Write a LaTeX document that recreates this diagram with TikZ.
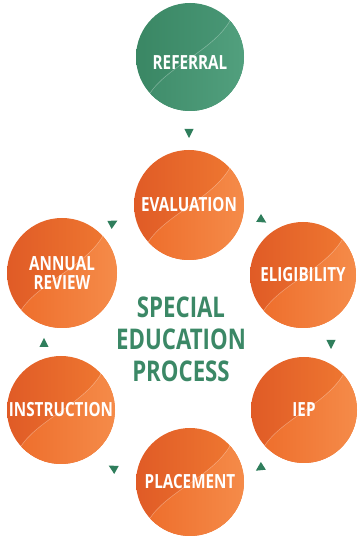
\documentclass[tikz,border=0pt]{standalone}
\usepackage{fontspec}
\newfontfamily\cond{Open Sans}[FakeStretch=0.78]
\definecolor{oD}{HTML}{E05B26}
\definecolor{oL}{HTML}{F07A32}
\definecolor{oR1}{HTML}{EE6E2C}
\definecolor{oR2}{HTML}{F58C4A}
\definecolor{gD}{HTML}{3A8764}
\definecolor{gL}{HTML}{4A9877}
\definecolor{gR1}{HTML}{408D6B}
\definecolor{gR2}{HTML}{52A07E}
\definecolor{titlegreen}{HTML}{3B8866}
\definecolor{tri}{HTML}{2F7E5C}
\tikzset{
  orb/.style={circle, minimum size=2*#1 pt, inner sep=0pt, text=white, align=center,
    font=\cond\bfseries\fontsize{19.5}{18}\selectfont},
  arrowtri/.style={fill=tri},
  swirlline/.style={white, opacity=0.35, line width=0.5pt},
}
% #1 x, #2 y, #3 radius, #4/#5 base colours, #6/#7 swirl colours
\newcommand\orbfill[7]{%
  \begin{scope}[shift={(#1,#2)}, x=#3pt, y=#3pt]
    \clip (0,0) circle[radius=#3pt];
    \shade[left color=#4, right color=#5] (-1,-1) rectangle (1,1);
    \shade[left color=#6, right color=#7]
      (-0.74,-0.67) .. controls (-0.42,-0.18) and (0.42,0.12) .. (0.74,0.67)
      -- (1.05,0.8) -- (1.05,-1.05) -- (-0.8,-1.05) -- cycle;
    \draw[swirlline]
      (-0.74,-0.67) .. controls (-0.42,-0.18) and (0.42,0.12) .. (0.74,0.67);
  \end{scope}}
\newcommand\tripoint[3]{\fill[arrowtri, shift={(#1,#2)}, rotate=#3] (5,0) -- (-4,4.6) -- (-4,-4.6) -- cycle;}
\begin{document}
\begin{tikzpicture}[x=1pt, y=1pt]
\useasboundingbox (0,0) rectangle (358,537);
\orbfill{190}{480}{54}{gD}{gL}{gR1}{gR2}
\orbfill{189}{332}{55}{oD}{oL}{oR1}{oR2}
\orbfill{303}{262}{53}{oD}{oL}{oR1}{oR2}
\orbfill{304}{127}{53}{oD}{oL}{oR1}{oR2}
\orbfill{190}{55}{54}{oD}{oL}{oR1}{oR2}
\orbfill{61}{127}{54}{oD}{oL}{oR1}{oR2}
\orbfill{62}{264}{55}{oD}{oL}{oR1}{oR2}
\node[orb=54] (referral) at (190,480) {\raisebox{-13pt}[0pt][0pt]{REFERRAL}};
\node[orb=55] (evaluation) at (189,332) {EVALUATION};
\node[orb=53] (eligibility) at (303,262) {ELIGIBILITY};
\node[orb=53] (iep) at (304,127) {IEP};
\node[orb=54] (placement) at (190,55) {PLACEMENT};
\node[orb=54] (instruction) at (61,127) {INSTRUCTION};
\node[orb=55] (annual) at (62,264) {ANNUAL\\[1pt]REVIEW};
\node[text=titlegreen, align=center, font=\cond\bfseries\fontsize{28.5}{32}\selectfont] (title) at (181,198) {SPECIAL\\EDUCATION\\PROCESS};
\tripoint{189}{404}{-90}
\tripoint{262}{317}{-31.5}
\tripoint{331}{193}{-90}
\tripoint{260}{69}{212.8}
\tripoint{113}{69}{150.5}
\tripoint{44}{194}{90}
\tripoint{113}{314}{28}
\end{tikzpicture}
\end{document}
